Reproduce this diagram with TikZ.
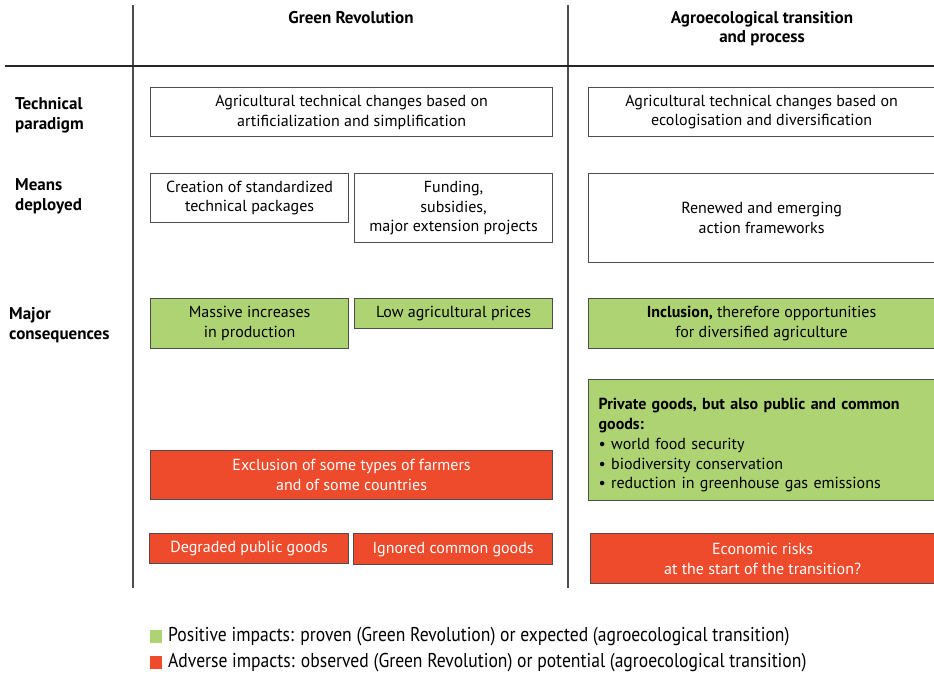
\documentclass[tikz,border=0pt]{standalone}
\usepackage{fontspec}
\setmainfont{PT Sans}
\usetikzlibrary{calc}
\definecolor{posgreen}{RGB}{174,211,115}
\definecolor{advred}{RGB}{238,74,44}
\definecolor{rulegray}{RGB}{77,77,77}
\tikzset{
  box/.style={draw=rulegray, line width=1.2pt, anchor=north west, align=center, inner sep=0pt, font=\fontsize{16}{19.75}\selectfont},
  posbox/.style={box, fill=posgreen},
  advbox/.style={box, fill=advred, text=white},
  rowlabel/.style={anchor=north west, align=left, inner sep=0pt, font=\bfseries\fontsize{17}{20}\selectfont},
  colhead/.style={align=center, inner sep=0pt, font=\bfseries\fontsize{17}{19.5}\selectfont},
  legtext/.style={anchor=west, inner sep=0pt, font=\fontsize{20}{22}\selectfont\addfontfeature{FakeStretch=0.88}},
}
\begin{document}
\begin{tikzpicture}[x=1pt, y=-1pt]
			%%%%% FRAME %%%%%
			\useasboundingbox (0, 0) rectangle (934, 678);
			
			\draw[rulegray, line width=1.3pt] (133, 5) -- (133, 588);
			\draw[rulegray, line width=1.3pt] (568, 5) -- (568, 588);
			\draw[black!85, line width=1.3pt] (5, 66) -- (934, 66);
			
			\node[colhead] (grhead) at (351, 18) {Green Revolution};
			\node[colhead] (aehead) at (762, 28.5) {Agroecological transition\\and process};
			
			\node[rowlabel] (techlab) at (15, 97) {Technical\\paradigm};
			\node[rowlabel] (meanslab) at (15, 178) {Means\\deployed};
			\node[rowlabel] (conslab) at (9, 307) {Major\\consequences};
			
			%%%%% TECHNICAL PARADIGM %%%%%
			\node[box, minimum width=402, minimum height=49] (grtech) at (150, 87) {Agricultural technical changes based on\\artificialization and simplification};
			\node[box, minimum width=346, minimum height=49] (aetech) at (588, 87) {Agricultural technical changes based on\\ecologisation and diversification};
			
			%%%%% MEANS DEPLOYED %%%%%
			\node[box, minimum width=198, minimum height=49] (grpack) at (150, 173) {Creation of standardized\\technical packages};
			\node[box, minimum width=198, minimum height=69] (grfund) at (354, 173) {Funding,\\subsidies,\\major extension projects};
			\node[box, minimum width=346, minimum height=89] (aeframe) at (588, 173) {Renewed and emerging\\action frameworks};
			
			%%%%% MAJOR CONSEQUENCES %%%%%
			\node[posbox, minimum width=198, minimum height=50] (grprod) at (150, 298) {Massive increases\\in production};
			\node[posbox, minimum width=198, minimum height=30] (grprice) at (354, 298) {Low agricultural prices};
			\node[posbox, minimum width=346, minimum height=50] (aeincl) at (588, 298) {\textbf{Inclusion,} therefore opportunities\\for diversified agriculture};
			\node[posbox, minimum width=346, minimum height=121, align=left, text width=326, inner xsep=10pt] (aegoods) at (588, 379) {\rule{0pt}{22pt}\textbf{Private goods, but also public and common}\\\textbf{goods:}\\\textbullet\ world food security\\\textbullet\ biodiversity conservation\\\textbullet\ reduction in greenhouse gas emissions};
			
			\node[advbox, minimum width=402, minimum height=49] (grexcl) at (150, 450) {Exclusion of some types of farmers\\and of some countries};
			\node[advbox, minimum width=199, minimum height=30] (grpublic) at (149, 533) {Degraded public goods};
			\node[advbox, minimum width=199, minimum height=31] (grcommon) at (353, 533) {Ignored common goods};
			\node[advbox, minimum width=344, minimum height=50] (aerisk) at (590, 533) {Economic risks\\at the start of the transition?};
			
			%%%%% LEGEND %%%%%
			\fill[posgreen] (150, 630) rectangle (162, 643);
			\node[legtext] (legpos) at (168, 637) {Positive impacts: proven (Green Revolution) or expected (agroecological transition)};
			\fill[advred] (150, 656) rectangle (162, 669);
			\node[legtext] (legadv) at (168, 663) {Adverse impacts: observed (Green Revolution) or potential (agroecological transition)};
			%%%%% END %%%%%
\end{tikzpicture}
\end{document}
